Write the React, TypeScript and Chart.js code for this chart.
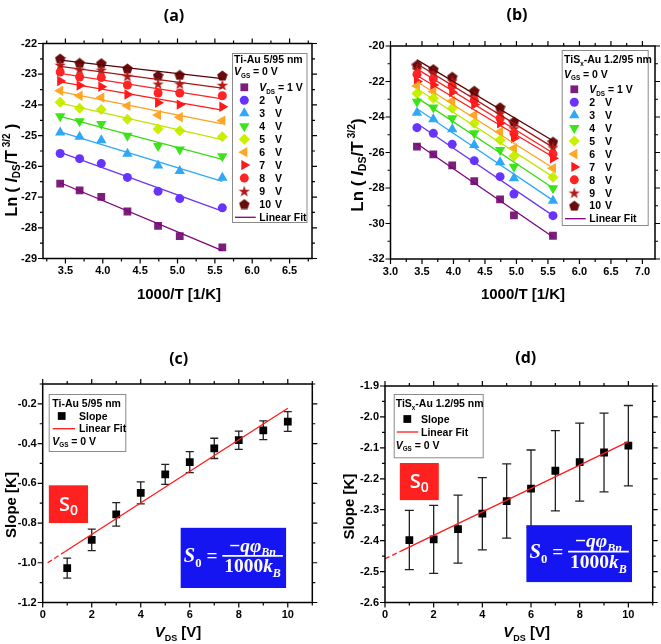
import { useEffect, useRef } from 'react';
import { Chart, registerables } from 'chart.js';
import { drawPoint } from 'chart.js/helpers';

Chart.register(...registerables);

// ---------------- data ----------------
const tempA = [3.43, 3.69, 3.98, 4.33, 4.74, 5.03, 5.6];
const tempB = [3.42, 3.68, 3.98, 4.33, 4.74, 4.96, 5.58];

const lnA_1V = [-26.56, -26.78, -26.99, -27.47, -27.94, -28.27, -28.64];
const lnA_2V = [-25.58, -25.75, -25.91, -26.36, -26.81, -27.05, -27.35];
const lnA_3V = [-24.9, -25.04, -25.15, -25.59, -25.97, -26.15, -26.37];
const lnA_4V = [-24.37, -24.53, -24.62, -25.0, -25.34, -25.45, -25.67];
const lnA_5V = [-23.91, -24.11, -24.15, -24.47, -24.78, -24.84, -25.04];
const lnA_6V = [-23.54, -23.7, -23.76, -24.03, -24.33, -24.4, -24.51];
const lnA_7V = [-23.22, -23.37, -23.41, -23.66, -23.93, -23.99, -24.06];
const lnA_8V = [-22.93, -23.09, -23.11, -23.35, -23.61, -23.61, -23.7];
const lnA_9V = [-22.7, -22.85, -22.86, -23.06, -23.31, -23.31, -23.35];
const lnA_10V = [-22.49, -22.63, -22.64, -22.81, -23.04, -23.02, -23.04];

const lnB_1V = [-25.67, -26.1, -26.72, -27.61, -28.64, -29.54, -30.69];
const lnB_2V = [-24.6, -24.92, -25.54, -26.46, -27.36, -28.34, -29.56];
const lnB_3V = [-23.76, -24.13, -24.69, -25.58, -26.55, -27.45, -28.72];
const lnB_4V = [-23.14, -23.47, -24.07, -24.92, -25.86, -26.8, -28.02];
const lnB_5V = [-22.67, -22.95, -23.51, -24.35, -25.3, -26.2, -27.4];
const lnB_6V = [-22.25, -22.57, -23.1, -23.89, -24.83, -25.76, -26.89];
const lnB_7V = [-22.0, -22.2, -22.6, -23.3, -24.35, -25.2, -26.33];
const lnB_8V = [-21.6, -21.85, -22.25, -23.05, -24.07, -24.92, -26.08];
const lnB_9V = [-21.31, -21.5, -21.95, -22.82, -23.79, -24.64, -25.71];
const lnB_10V = [-21.07, -21.3, -21.73, -22.52, -23.45, -24.26, -25.39];

const vdsValues = [1, 2, 3, 4, 5, 6, 7, 8, 9, 10];
const vdsLabels = ['1', '2', '3', '4', '5', '6', '7', '8', '9', '10'];

const slopeTiAu = [-1.027, -0.885, -0.756, -0.648, -0.555, -0.493, -0.424, -0.383, -0.333, -0.289];
const slopeErrTiAu = [0.05, 0.054, 0.059, 0.055, 0.05, 0.053, 0.051, 0.046, 0.047, 0.05];
const slopeTiSx = [-2.398, -2.396, -2.363, -2.313, -2.272, -2.232, -2.174, -2.146, -2.115, -2.093];
const slopeErrTiSx = [0.096, 0.11, 0.11, 0.117, 0.12, 0.125, 0.13, 0.126, 0.127, 0.13];

// fit extents: [dashed start, solid start, end]
const fitSpanC = [0.2, 0.9, 10];
const fitSpanD = [0, 0.65, 10];

const ticksXA = [3.5, 4.0, 4.5, 5.0, 5.5, 6.0, 6.5];
const ticksYA = [-29, -28, -27, -26, -25, -24, -23, -22];
const ticksXB = [3.0, 3.5, 4.0, 4.5, 5.0, 5.5, 6.0, 6.5, 7.0];
const ticksYB = [-32, -30, -28, -26, -24, -22, -20];
const ticksXCD = [0, 2, 4, 6, 8, 10];
const ticksYC = [-1.2, -1.0, -0.8, -0.6, -0.4, -0.2];
const ticksYD = [-2.6, -2.5, -2.4, -2.3, -2.2, -2.1, -2.0, -1.9];

// ---------------- styles ----------------
const FAM = "'Liberation Sans', Arial, sans-serif";
const TITLE_FAM = "'Open Sans', sans-serif";
const MATH_FAM = "'Liberation Serif', 'DejaVu Serif', serif";
const LFS = 10.5;

const seriesColors = ['#7b1f7b', '#6633ff', '#2fa8f5', '#3ee41a', '#c8f000', '#ffa726', '#ff1a1a', '#ff2424', '#b31a1a', '#6a0c0c'];
const fitColors = ['#7f007f', '#6a35f5', '#2fa8f5', '#38dc10', '#bfe500', '#ffa020', '#ff1a1a', '#ff2424', '#aa1515', '#5a0000'];

type Seg = { t: string; size: number; italic?: boolean; dy?: number; fam?: string; weight?: string };

function segFont(s: Seg, fam: string) {
  return `${s.italic ? 'italic ' : ''}${s.weight || 'bold'} ${s.size}px ${s.fam || fam}`;
}
function richWidth(ctx: CanvasRenderingContext2D, segs: Seg[], fam = FAM) {
  let w = 0;
  for (const s of segs) {
    ctx.font = segFont(s, fam);
    w += ctx.measureText(s.t).width;
  }
  return w;
}
function drawRich(ctx: CanvasRenderingContext2D, segs: Seg[], x: number, y: number, align: 'left' | 'center', fam = FAM) {
  const w = richWidth(ctx, segs, fam);
  let cx = align === 'center' ? x - w / 2 : x;
  ctx.textAlign = 'left';
  ctx.textBaseline = 'alphabetic';
  for (const s of segs) {
    ctx.font = segFont(s, fam);
    ctx.fillText(s.t, cx, y + (s.dy || 0));
    cx += ctx.measureText(s.t).width;
  }
}

function linFit(xs: number[], ys: number[]) {
  const n = xs.length;
  const mx = xs.reduce((a, b) => a + b, 0) / n;
  const my = ys.reduce((a, b) => a + b, 0) / n;
  let sxy = 0, sxx = 0;
  for (let i = 0; i < n; i++) {
    sxy += (xs[i] - mx) * (ys[i] - my);
    sxx += (xs[i] - mx) * (xs[i] - mx);
  }
  const b = sxy / sxx;
  return { a: my - b * mx, b };
}

function minorTicks(major: number[], min: number, max: number) {
  const step = major[1] - major[0];
  const out: number[] = [];
  for (let i = -1; i < major.length; i++) {
    const v = i < 0 ? major[0] - step / 2 : major[i] + step / 2;
    if (v >= min - 1e-9 && v <= max + 1e-9) out.push(v);
  }
  return out;
}

function makeShape(kind: 'star' | 'pentagon', size: number, color: string) {
  const c = document.createElement('canvas');
  c.width = size;
  c.height = size;
  const g = c.getContext('2d')!;
  g.fillStyle = color;
  g.beginPath();
  const cx = size / 2, cy = size / 2 + 0.6;
  const n = kind === 'star' ? 10 : 5;
  for (let i = 0; i < n; i++) {
    const ang = -Math.PI / 2 + (i * 2 * Math.PI) / n;
    const r = kind === 'star' ? (i % 2 === 0 ? size / 2 : size * 0.2) : size / 2;
    g.lineTo(cx + r * Math.cos(ang), cy + r * Math.sin(ang));
  }
  g.closePath();
  g.fill();
  return c;
}

function markerDefs(star: any, pent: any) {
  return [
    { pointStyle: 'rect', rotation: 0, radius: 5.5 },
    { pointStyle: 'circle', rotation: 0, radius: 4.5 },
    { pointStyle: 'triangle', rotation: 0, radius: 6 },
    { pointStyle: 'triangle', rotation: 180, radius: 6 },
    { pointStyle: 'rectRot', rotation: 0, radius: 5.5 },
    { pointStyle: 'triangle', rotation: 270, radius: 6 },
    { pointStyle: 'triangle', rotation: 90, radius: 6 },
    { pointStyle: 'circle', rotation: 0, radius: 4.5 },
    { pointStyle: star, rotation: 0, radius: 5 },
    { pointStyle: pent, rotation: 0, radius: 5 },
  ];
}

function markerDataset(xs: number[], ys: number[], m: any, color: string) {
  return {
    data: xs.map((x, j) => ({ x, y: ys[j] })),
    showLine: false,
    pointStyle: m.pointStyle,
    pointRotation: m.rotation,
    pointRadius: m.radius,
    pointBackgroundColor: color,
    pointBorderColor: color,
    pointBorderWidth: 0,
    backgroundColor: color,
    borderColor: color,
  };
}

function lineDataset(pts: { x: number; y: number }[], color: string, dash: number[] = []) {
  return {
    data: pts,
    showLine: true,
    borderColor: color,
    borderWidth: 1.3,
    borderDash: dash,
    pointRadius: 0,
    fill: false,
  };
}

function drawS0(ctx: CanvasRenderingContext2D, x0: number, y0: number, x1: number, y1: number) {
  ctx.fillStyle = '#ff2020';
  ctx.fillRect(x0, y0, x1 - x0, y1 - y0);
  ctx.fillStyle = '#fff';
  const segs: Seg[] = [
    { t: 'S', size: 20, fam: TITLE_FAM, weight: '600' },
    { t: '0', size: 14, dy: 4, fam: TITLE_FAM, weight: '600' },
  ];
  drawRich(ctx, segs, (x0 + x1) / 2, (y0 + y1) / 2 + 6.5, 'center');
}

function drawFormula(ctx: CanvasRenderingContext2D, x0: number, y0: number, x1: number, y1: number) {
  ctx.fillStyle = '#1515f2';
  ctx.fillRect(x0, y0, x1 - x0, y1 - y0);
  const build = (f: number) => {
    const sub = f * 0.62, d = f * 0.25;
    const left: Seg[] = [
      { t: 'S', size: f * 1.05, italic: true, fam: MATH_FAM },
      { t: '0', size: sub * 1.05, dy: d, fam: MATH_FAM },
      { t: ' = ', size: f, fam: MATH_FAM },
    ];
    const num: Seg[] = [
      { t: '\u2212', size: f, fam: MATH_FAM },
      { t: 'q\u03c6', size: f, italic: true, fam: MATH_FAM },
      { t: 'Bn', size: sub, italic: true, dy: d, fam: MATH_FAM },
    ];
    const den: Seg[] = [
      { t: '1000', size: f, fam: MATH_FAM },
      { t: 'k', size: f, italic: true, fam: MATH_FAM },
      { t: 'B', size: sub, italic: true, dy: d, fam: MATH_FAM },
    ];
    return { left, num, den };
  };
  let f = 18;
  let p = build(f);
  const tot = (q: any) => richWidth(ctx, q.left, MATH_FAM) + Math.max(richWidth(ctx, q.num, MATH_FAM), richWidth(ctx, q.den, MATH_FAM)) + 4;
  f = Math.max(11, Math.min(23, (f * (x1 - x0 - 6)) / tot(p)));
  p = build(f);
  const wL = richWidth(ctx, p.left, MATH_FAM);
  const wF = Math.max(richWidth(ctx, p.num, MATH_FAM), richWidth(ctx, p.den, MATH_FAM)) + 4;
  const sx = x0 + (x1 - x0 - wL - wF) / 2;
  const cy = (y0 + y1) / 2 - 2;
  ctx.fillStyle = '#fff';
  drawRich(ctx, p.left, sx, cy + f * 0.32, 'left', MATH_FAM);
  const fx = sx + wL + wF / 2;
  drawRich(ctx, p.num, fx, cy - f * 0.22, 'center', MATH_FAM);
  drawRich(ctx, p.den, fx, cy + f * 0.85, 'center', MATH_FAM);
  ctx.strokeStyle = '#fff';
  ctx.lineWidth = 1.6;
  ctx.beginPath();
  ctx.moveTo(fx - wF / 2, cy);
  ctx.lineTo(fx + wF / 2, cy);
  ctx.stroke();
}

function decoPlugin(spec: any) {
  return {
    id: 'deco_' + spec.key,
    beforeDatasetsDraw(chart: any) {
      const e = spec.errors;
      if (!e) return;
      const ctx = chart.ctx, sx = chart.scales.x, sy = chart.scales.y;
      ctx.save();
      ctx.strokeStyle = e.color;
      ctx.lineWidth = e.width;
      e.xs.forEach((xv: number, i: number) => {
        const px = sx.getPixelForValue(xv);
        const p1 = sy.getPixelForValue(e.ys[i] + e.errs[i]);
        const p2 = sy.getPixelForValue(e.ys[i] - e.errs[i]);
        ctx.beginPath();
        ctx.moveTo(px, p1);
        ctx.lineTo(px, p2);
        ctx.moveTo(px - e.cap, p1);
        ctx.lineTo(px + e.cap, p1);
        ctx.moveTo(px - e.cap, p2);
        ctx.lineTo(px + e.cap, p2);
        ctx.stroke();
      });
      ctx.restore();
    },
    afterDraw(chart: any) {
      const ctx: CanvasRenderingContext2D = chart.ctx;
      const { left, right, top, bottom } = chart.chartArea;
      const sx = chart.scales.x, sy = chart.scales.y;
      ctx.save();
      // annotation boxes
      (spec.boxes || []).forEach((b: any) => {
        const X0 = sx.getPixelForValue(b.x0), X1 = sx.getPixelForValue(b.x1);
        const Y0 = sy.getPixelForValue(b.y0), Y1 = sy.getPixelForValue(b.y1);
        if (b.kind === 's0') drawS0(ctx, X0, Y0, X1, Y1);
        else drawFormula(ctx, X0, Y0, X1, Y1);
      });
      // frame
      ctx.strokeStyle = '#000';
      ctx.lineWidth = 1.5;
      ctx.strokeRect(left, top, right - left, bottom - top);
      // ticks
      ctx.lineWidth = 1.2;
      const tx = (vals: number[], len: number) => {
        ctx.beginPath();
        vals.forEach((v) => {
          const px = sx.getPixelForValue(v);
          if (px < left - 0.5 || px > right + 0.5) return;
          ctx.moveTo(px, bottom);
          ctx.lineTo(px, bottom + len);
          ctx.moveTo(px, top);
          ctx.lineTo(px, top - len);
        });
        ctx.stroke();
      };
      const ty = (vals: number[], len: number) => {
        ctx.beginPath();
        vals.forEach((v) => {
          const py = sy.getPixelForValue(v);
          if (py < top - 0.5 || py > bottom + 0.5) return;
          ctx.moveTo(left, py);
          ctx.lineTo(left - len, py);
          ctx.moveTo(right, py);
          ctx.lineTo(right + len, py);
        });
        ctx.stroke();
      };
      tx(spec.xTicks, 5);
      tx(minorTicks(spec.xTicks, spec.xMin, spec.xMax), 3);
      ty(spec.yTicks, 5);
      ty(minorTicks(spec.yTicks, spec.yMin, spec.yMax), 3);
      // titles
      ctx.fillStyle = '#000';
      ctx.font = `bold 16px ${TITLE_FAM}`;
      ctx.textAlign = 'center';
      ctx.textBaseline = 'alphabetic';
      ctx.fillText(spec.title, spec.titlePos[0], spec.titlePos[1] + 6);
      drawRich(ctx, spec.xTitle, spec.xTitlePos[0], spec.xTitlePos[1] + 5.5, 'center');
      ctx.save();
      ctx.translate(spec.yTitlePos[0], spec.yTitlePos[1]);
      ctx.rotate(-Math.PI / 2);
      drawRich(ctx, spec.yTitle, 0, 5.5, 'center');
      ctx.restore();
      // legend
      const L = spec.legend;
      ctx.strokeStyle = '#8a8a8a';
      ctx.lineWidth = 1;
      ctx.strokeRect(L.box[0] + 0.5, L.box[1] + 0.5, L.box[2] - L.box[0], L.box[3] - L.box[1]);
      L.rows.forEach((r: any) => {
        const base = r.y + 0.36 * LFS;
        if (r.marker) {
          ctx.fillStyle = r.color;
          ctx.strokeStyle = r.color;
          drawPoint(ctx, { pointStyle: r.marker.pointStyle, rotation: r.marker.rotation, radius: r.marker.radius, borderWidth: 0 } as any, r.mx, r.y);
        }
        if (r.line) {
          ctx.strokeStyle = r.line;
          ctx.lineWidth = 1.3;
          ctx.beginPath();
          ctx.moveTo(r.lx0, r.y);
          ctx.lineTo(r.lx1, r.y);
          ctx.stroke();
        }
        ctx.fillStyle = '#000';
        drawRich(ctx, r.segs, r.x, base, 'left');
        if (r.vx) drawRich(ctx, [{ t: 'V', size: LFS }], r.vx, base, 'left');
      });
      ctx.restore();
    },
  };
}

function buildChart(canvas: HTMLCanvasElement, spec: any) {
  const yW = 40, xH = 20;
  const tickFont = { family: FAM, size: 11, weight: 'bold' as const };
  return new Chart(canvas, {
    type: 'scatter',
    data: { datasets: spec.datasets },
    options: {
      responsive: false,
      animation: false,
      devicePixelRatio: 1,
      events: [],
      layout: {
        padding: {
          left: spec.area.l - yW,
          right: spec.W - spec.area.r,
          top: spec.area.t,
          bottom: spec.H - spec.area.b - xH,
        },
      },
      plugins: { legend: { display: false }, tooltip: { enabled: false }, title: { display: false } },
      scales: {
        x: {
          type: 'linear',
          position: 'bottom',
          min: spec.xMin,
          max: spec.xMax,
          afterBuildTicks: (s: any) => {
            s.ticks = spec.xTicks.map((v: number) => ({ value: v }));
          },
          afterFit: (s: any) => {
            s.height = xH;
          },
          grid: { display: false, drawTicks: false },
          border: { display: false },
          ticks: {
            font: tickFont,
            color: '#000',
            padding: 6,
            maxRotation: 0,
            autoSkip: false,
            callback: (v: any) => Number(v).toFixed(spec.xDigits),
          },
        },
        y: {
          type: 'linear',
          position: 'left',
          min: spec.yMin,
          max: spec.yMax,
          afterBuildTicks: (s: any) => {
            s.ticks = spec.yTicks.map((v: number) => ({ value: v }));
          },
          afterFit: (s: any) => {
            s.width = yW;
          },
          grid: { display: false, drawTicks: false },
          border: { display: false },
          ticks: {
            font: tickFont,
            color: '#000',
            padding: 6,
            autoSkip: false,
            callback: (v: any) => Number(v).toFixed(spec.yDigits),
          },
        },
      },
    } as any,
    plugins: [decoPlugin(spec)],
  });
}

const vgsSegs = (sz: number): Seg[] => [
  { t: 'V', size: sz, italic: true },
  { t: 'GS', size: sz * 0.6, dy: 2.5 },
  { t: ' = 0 V', size: sz },
];
const vdsSegs = (v: string, sz: number): Seg[] => [
  { t: 'V', size: sz, italic: true },
  { t: 'DS', size: sz * 0.6, dy: 2.5 },
  { t: ` = ${v} V`, size: sz },
];
const lnTitle: Seg[] = [
  { t: 'Ln ( ', size: 16 },
  { t: 'I', size: 16, italic: true },
  { t: 'DS', size: 10, dy: 3.5 },
  { t: '/T', size: 16 },
  { t: ' 3/2', size: 10, dy: -7 },
  { t: ' )', size: 16 },
];
const lnTitleB: Seg[] = [
  { t: 'Ln ( ', size: 17 },
  { t: 'I', size: 17, italic: true },
  { t: 'DS', size: 10.5, dy: 3.5 },
  { t: '/T', size: 17 },
  { t: ' 3/2', size: 10.5, dy: -7.5 },
  { t: ')', size: 17 },
];
const invTTitle: Seg[] = [{ t: '1000/T [1/K]', size: 15 }];
const vdsTitle: Seg[] = [
  { t: 'V', size: 15, italic: true },
  { t: 'DS', size: 9, dy: 3.5 },
  { t: ' [V]', size: 15 },
];
const slopeTitle: Seg[] = [{ t: 'Slope [K]', size: 15 }];

function seriesLegendRows(markers: any[], mx: number, x: number, vx: number, y0: number, dy: number) {
  return vdsLabels.map((lab, i) => ({
    marker: markers[i],
    color: seriesColors[i],
    mx,
    x,
    y: y0 + i * dy,
    segs: i === 0 ? vdsSegs(lab, LFS) : [{ t: lab, size: LFS }],
    vx: i === 0 ? undefined : vx,
  }));
}

function lnDatasets(xs: number[], series: number[][], markers: any[]) {
  const ds: any[] = [];
  series.forEach((ys, i) => {
    const { a, b } = linFit(xs, ys);
    const x0 = xs[0], x1 = xs[xs.length - 1];
    ds.push(lineDataset([{ x: x0, y: a + b * x0 }, { x: x1, y: a + b * x1 }], fitColors[i]));
  });
  series.forEach((ys, i) => ds.push(markerDataset(xs, ys, markers[i], seriesColors[i])));
  return ds;
}

function slopeDatasets(ys: number[], span: number[]) {
  const { a, b } = linFit(vdsValues, ys);
  const p = (x: number) => ({ x, y: a + b * x });
  return [
    lineDataset([p(span[0]), p(span[1])], '#ff1a1a', [5, 3]),
    lineDataset([p(span[1]), p(span[2])], '#ff1a1a'),
    markerDataset(vdsValues, ys, { pointStyle: 'rect', rotation: 0, radius: 5.5 }, '#000'),
  ];
}

export default function App() {
  const refA = useRef<HTMLCanvasElement>(null);
  const refB = useRef<HTMLCanvasElement>(null);
  const refC = useRef<HTMLCanvasElement>(null);
  const refD = useRef<HTMLCanvasElement>(null);

  useEffect(() => {
    const star = makeShape('star', 12, seriesColors[8]);
    const pent = makeShape('pentagon', 11, seriesColors[9]);
    const markers = markerDefs(star, pent);
    const seriesA = [lnA_1V, lnA_2V, lnA_3V, lnA_4V, lnA_5V, lnA_6V, lnA_7V, lnA_8V, lnA_9V, lnA_10V];
    const seriesB = [lnB_1V, lnB_2V, lnB_3V, lnB_4V, lnB_5V, lnB_6V, lnB_7V, lnB_8V, lnB_9V, lnB_10V];

    const specA = {
      key: 'a', W: 330, H: 322,
      area: { l: 43, r: 312, t: 43.5, b: 258.5 },
      xMin: 3.2, xMax: 6.8, yMin: -29, yMax: -22,
      xTicks: ticksXA, yTicks: ticksYA, xDigits: 1, yDigits: 0,
      datasets: lnDatasets(tempA, seriesA, markers),
      title: '(a)', titlePos: [174, 15],
      xTitle: invTTitle, xTitlePos: [179, 293],
      yTitle: lnTitle, yTitlePos: [11, 170],
      legend: {
        box: [232, 53, 306.5, 222],
        rows: [
          { x: 234, y: 59.7, segs: [{ t: 'Ti-Au 5/95 nm', size: LFS }] },
          { x: 234, y: 71.7, segs: vgsSegs(LFS) },
          ...seriesLegendRows(markers, 244.3, 259.3, 275, 87.3, 12.97),
          { line: fitColors[0], lx0: 235, lx1: 255.7, x: 259.3, y: 217.3, segs: [{ t: 'Linear Fit', size: LFS }] },
        ],
      },
    };
    const specB = {
      key: 'b', W: 331, H: 322,
      area: { l: 60.5, r: 325, t: 46, b: 259 },
      xMin: 3.0, xMax: 7.2, yMin: -32, yMax: -20,
      xTicks: ticksXB, yTicks: ticksYB, xDigits: 1, yDigits: 0,
      datasets: lnDatasets(tempB, seriesB, markers),
      title: '(b)', titlePos: [187, 14],
      xTitle: invTTitle, xTitlePos: [193, 293],
      yTitle: lnTitleB, yTitlePos: [27, 165],
      legend: {
        box: [231.7, 50, 317.7, 225],
        rows: [
          {
            x: 234, y: 59.7,
            segs: [
              { t: 'TiS', size: LFS },
              { t: 'x', size: LFS * 0.6, dy: 2.5 },
              { t: '-Au 1.2/95 nm', size: LFS },
            ],
          },
          { x: 234, y: 74, segs: vgsSegs(LFS) },
          ...seriesLegendRows(markers, 244.3, 259.3, 275, 89.3, 12.93),
          { line: fitColors[0], lx0: 235, lx1: 255.7, x: 259.3, y: 218.7, segs: [{ t: 'Linear Fit', size: LFS }] },
        ],
      },
    };
    const specC = {
      key: 'c', W: 330, H: 322,
      area: { l: 42.7, r: 312.3, t: 62, b: 280.5 },
      xMin: 0, xMax: 11, yMin: -1.2, yMax: -0.1,
      xTicks: ticksXCD, yTicks: ticksYC, xDigits: 0, yDigits: 1,
      datasets: slopeDatasets(slopeTiAu, fitSpanC),
      errors: { xs: vdsValues, ys: slopeTiAu, errs: slopeErrTiAu, cap: 4, color: '#222', width: 1.3 },
      boxes: [
        { kind: 's0', x0: 0.25, x1: 1.85, y0: -0.61, y1: -0.8 },
        { kind: 'formula', x0: 5.63, x1: 9.93, y0: -0.824, y1: -1.127 },
      ],
      title: '(c)', titlePos: [178.7, 35.5],
      xTitle: vdsTitle, xTitlePos: [178, 309.7],
      yTitle: slopeTitle, yTitlePos: [10, 183],
      legend: {
        box: [48.7, 72, 125.3, 129],
        rows: [
          { x: 52.3, y: 81.3, segs: [{ t: 'Ti-Au 5/95 nm', size: LFS }] },
          { marker: { pointStyle: 'rect', rotation: 0, radius: 5.5 }, color: '#000', mx: 61.7, x: 79, y: 94, segs: [{ t: 'Slope', size: LFS }] },
          { line: '#ff1a1a', lx0: 52.7, lx1: 75, x: 79, y: 106.7, segs: [{ t: 'Linear Fit', size: LFS }] },
          { x: 52.3, y: 119, segs: vgsSegs(LFS) },
        ],
      },
    };
    const specD = {
      key: 'd', W: 331, H: 322,
      area: { l: 55, r: 322.7, t: 64, b: 280.5 },
      xMin: 0, xMax: 11, yMin: -2.6, yMax: -1.9,
      xTicks: ticksXCD, yTicks: ticksYD, xDigits: 0, yDigits: 1,
      datasets: slopeDatasets(slopeTiSx, fitSpanD),
      errors: { xs: vdsValues, ys: slopeTiSx, errs: slopeErrTiSx, cap: 4.5, color: '#222', width: 1.3 },
      boxes: [
        { kind: 's0', x0: 0.61, x1: 2.21, y0: -2.149, y1: -2.269 },
        { kind: 'formula', x0: 5.81, x1: 10.15, y0: -2.35, y1: -2.534 },
      ],
      title: '(d)', titlePos: [195.7, 35.3],
      xTitle: vdsTitle, xTitlePos: [196.7, 309.7],
      yTitle: slopeTitle, yTitlePos: [18.5, 184.7],
      legend: {
        box: [63.7, 72, 152.7, 135.3],
        rows: [
          {
            x: 65.7, y: 81.3,
            segs: [
              { t: 'TiS', size: LFS },
              { t: 'x', size: LFS * 0.6, dy: 2.5 },
              { t: '-Au 1.2/95 nm', size: LFS },
            ],
          },
          { marker: { pointStyle: 'rect', rotation: 0, radius: 5.5 }, color: '#000', mx: 77.3, x: 91, y: 97, segs: [{ t: 'Slope', size: LFS }] },
          { line: '#ff1a1a', lx0: 66.7, lx1: 88.3, x: 91, y: 110, segs: [{ t: 'Linear Fit', size: LFS }] },
          { x: 65.7, y: 123, segs: vgsSegs(LFS) },
        ],
      },
    };

    const charts = [
      buildChart(refA.current!, specA),
      buildChart(refB.current!, specB),
      buildChart(refC.current!, specC),
      buildChart(refD.current!, specD),
    ];
    return () => charts.forEach((c) => c.destroy());
  }, []);

  const cv = (left: number, top: number, w: number, h: number) => ({
    position: 'absolute' as const,
    left,
    top,
    width: w,
    height: h,
    display: 'block',
  });

  return (
    <div style={{ position: 'absolute', left: 0, top: 0, width: 661, height: 644, background: '#fff' }}>
      <canvas ref={refA} width={330} height={322} style={cv(0, 0, 330, 322)} />
      <canvas ref={refB} width={331} height={322} style={cv(330, 0, 331, 322)} />
      <canvas ref={refC} width={330} height={322} style={cv(0, 322, 330, 322)} />
      <canvas ref={refD} width={331} height={322} style={cv(330, 322, 331, 322)} />
    </div>
  );
}
